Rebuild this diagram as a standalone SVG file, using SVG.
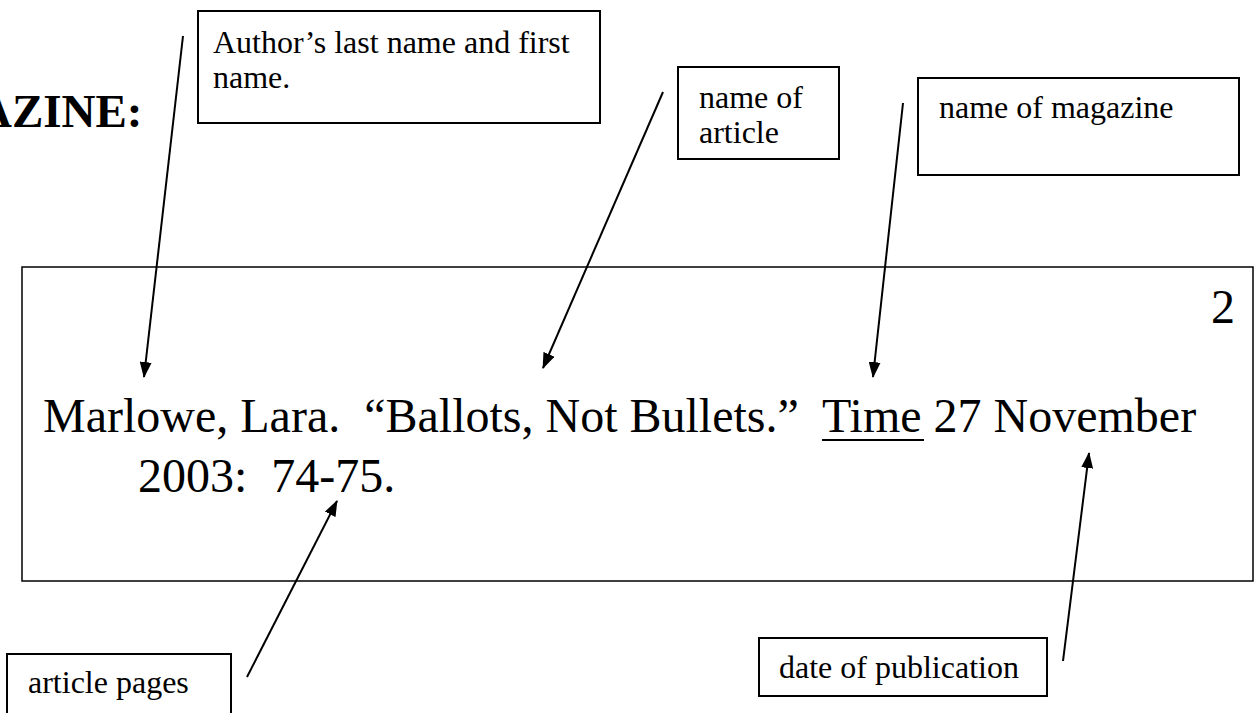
<svg xmlns="http://www.w3.org/2000/svg" width="1256" height="713" viewBox="0 0 1256 713">
<style>
.box{fill:#fff;stroke:#000;stroke-width:2}
.lbl{font-family:"Liberation Serif","Times New Roman",serif;font-size:32px;fill:#000}
.main{font-family:"Liberation Serif","Times New Roman",serif;font-size:48px;fill:#000;white-space:pre}
.conn{stroke:#000;stroke-width:2;fill:none;marker-end:url(#ah)}
</style>
<defs>
<marker id="ah" markerUnits="userSpaceOnUse" markerWidth="16" markerHeight="12" refX="15" refY="6" orient="auto">
<path d="M0,0 L16,6 L0,12 z" fill="#000"/>
</marker>
</defs>
<rect width="1256" height="713" fill="#fff"/>
<g id="title"><text x="-22" y="127" font-family="Liberation Serif,Times New Roman,serif" font-weight="bold" font-size="47">AZINE:</text></g>
<g id="citation">
<rect x="22" y="267" width="1231" height="314" fill="#fff" stroke="#000" stroke-width="1.5"/>
<text class="main" x="1235" y="323" text-anchor="end">2</text>
<text class="main" x="43" y="432" xml:space="preserve">Marlowe, Lara.  “Ballots, Not Bullets.”  Time 27 November</text>
<line x1="822" y1="440" x2="924" y2="440" stroke="#000" stroke-width="2"/>
<text class="main" x="138" y="492" xml:space="preserve">2003:  74-75.</text>
</g>
<g id="author">
<rect class="box" x="198" y="11" width="402" height="112"/>
<text class="lbl" x="213" y="53">Author’s last name and first</text>
<text class="lbl" x="213" y="88">name.</text>
</g>
<g id="article">
<rect class="box" x="678" y="67" width="161" height="92"/>
<text class="lbl" x="699" y="108">name of</text>
<text class="lbl" x="699" y="143">article</text>
</g>
<g id="magazine">
<rect class="box" x="918" y="78" width="321" height="97"/>
<text class="lbl" x="939" y="118">name of magazine</text>
</g>
<g id="pages">
<rect class="box" x="7" y="654" width="224" height="70"/>
<text class="lbl" x="28" y="693">article pages</text>
</g>
<g id="date">
<rect class="box" x="759" y="638" width="288" height="58"/>
<text class="lbl" x="779" y="678">date of publication</text>
</g>
<g id="connectors">
<line class="conn" x1="183" y1="36" x2="144" y2="377"/>
<line class="conn" x1="663" y1="92" x2="543" y2="368"/>
<line class="conn" x1="903" y1="103" x2="873" y2="377"/>
<line class="conn" x1="247" y1="677" x2="337" y2="501"/>
<line class="conn" x1="1063" y1="661" x2="1089" y2="453"/>
</g>
</svg>
